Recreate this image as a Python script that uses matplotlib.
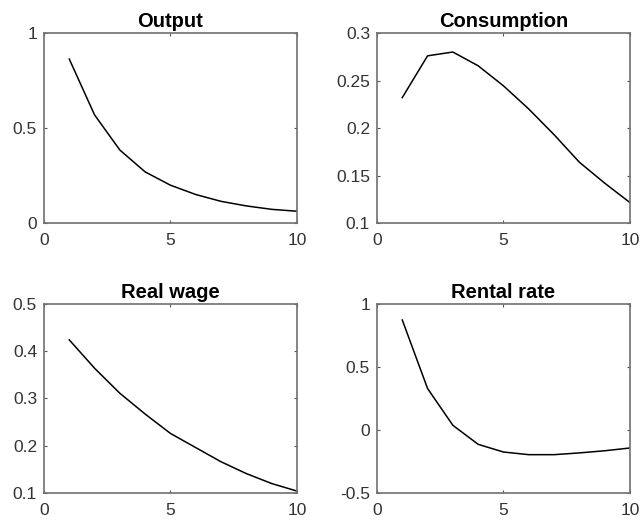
import matplotlib.pyplot as plt

plt.rcParams['font.family'] = ['Liberation Sans', 'DejaVu Sans']

# Impulse responses over the first ten periods
periods = [1, 2, 3, 4, 5, 6, 7, 8, 9, 10]
output = [0.863, 0.569, 0.384, 0.269, 0.199, 0.150, 0.114, 0.090, 0.072, 0.062]
consumption = [0.232, 0.276, 0.280, 0.2655, 0.2444, 0.220, 0.193, 0.164, 0.142, 0.1215]
real_wage = [0.424, 0.364, 0.311, 0.267, 0.226, 0.196, 0.166, 0.141, 0.120, 0.104]
rental_rate = [0.873, 0.329, 0.037, -0.114, -0.175, -0.196, -0.196, -0.182, -0.165, -0.143]

panels = [
    ('Output', output, (0, 1), [0, 0.5, 1], ['0', '0.5', '1']),
    ('Consumption', consumption, (0.1, 0.3), [0.1, 0.15, 0.2, 0.25, 0.3],
     ['0.1', '0.15', '0.2', '0.25', '0.3']),
    ('Real wage', real_wage, (0.1, 0.5), [0.1, 0.2, 0.3, 0.4, 0.5],
     ['0.1', '0.2', '0.3', '0.4', '0.5']),
    ('Rental rate', rental_rate, (-0.5, 1), [-0.5, 0, 0.5, 1], ['-0.5', '0', '0.5', '1']),
]

# axes rectangles in figure fractions: left, bottom, width, height
rects = [
    [0.0686, 0.5752, 0.3947, 0.3619],
    [0.5881, 0.5752, 0.3947, 0.3619],
    [0.0686, 0.0610, 0.3947, 0.3600],
    [0.5881, 0.0610, 0.3947, 0.3600],
]

fig = plt.figure(figsize=(6.41, 5.25), dpi=100)

for (title, ys, ylim, yticks, ylabels), rect in zip(panels, rects):
    ax = fig.add_axes(rect)
    ax.plot(periods, ys, color='black', lw=1.1)
    ax.set_xlim(0, 10)
    ax.set_ylim(*ylim)
    ax.set_xticks([0, 5, 10])
    ax.set_xticklabels(['0', '5', '10'])
    ax.set_yticks(yticks)
    ax.set_yticklabels(ylabels)
    ax.set_title(title, fontsize=14.5, fontweight='bold', pad=4)
    ax.tick_params(direction='in', length=2.5, width=0.8, color='#555555',
                   labelcolor='#333333', labelsize=12.5, top=True, right=True)
    ax.tick_params(axis='x', pad=7)
    ax.tick_params(axis='y', pad=5)
    for spine in ax.spines.values():
        spine.set_color('#707070')
        spine.set_linewidth(1.2)

plt.savefig('out.png', dpi=100)
